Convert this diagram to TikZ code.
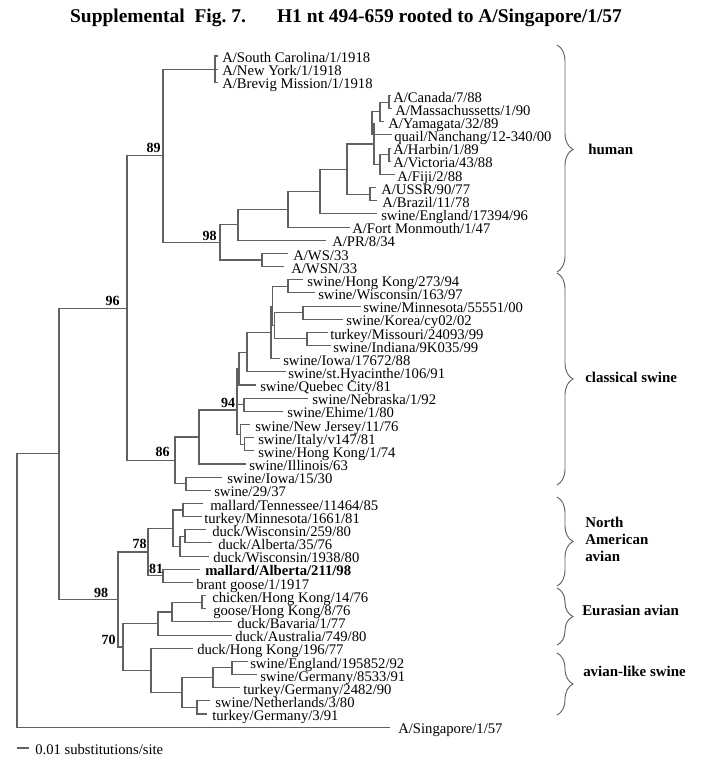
\documentclass[tikz,border=0pt]{standalone}
\usepackage{fontspec}
\setmainfont{Liberation Serif}
\usetikzlibrary{decorations.pathreplacing}
\begin{document}
\begin{tikzpicture}[x=0.75pt,y=-0.75pt,
  br/.style={draw=black!62, line width=0.8pt},
  leaf/.style={anchor=base west, inner sep=0pt, yshift=-5pt, font=\fontsize{11}{12}\selectfont},
  boot/.style={anchor=south east, inner sep=0pt, font=\bfseries\fontsize{10.5}{12}\selectfont},
  clade/.style={anchor=west, inner sep=0pt, align=left, font=\bfseries\fontsize{11.2}{12.75}\selectfont},
  brc/.style={draw=black!62, line width=0.7pt, decorate, decoration={brace, amplitude=12pt}}]
\useasboundingbox (0,0) rectangle (700,764);

\node[font=\bfseries\fontsize{14.6}{16}\selectfont, inner sep=0pt] (title) at (346,18)
  {Supplemental\ \ Fig.\ 7.\hspace{1.6em}H1 nt 494-659 rooted to A/Singapore/1/57};

% ---------- leaves ----------
\coordinate (l1) at (218,56.00);   \node[leaf] (t1) at (222,56.00) {A/South Carolina/1/1918};
\coordinate (l2) at (218,69.16);   \node[leaf] (t2) at (222,69.16) {A/New York/1/1918};
\coordinate (l3) at (218,82.32);   \node[leaf] (t3) at (222,82.32) {A/Brevig Mission/1/1918};
\coordinate (l4) at (391,95.48);   \node[leaf] (t4) at (393,95.48) {A/Canada/7/88};
\coordinate (l5) at (392,108.64);  \node[leaf] (t5) at (395,108.64) {A/Massachussetts/1/90};
\coordinate (l6) at (384,121.80);  \node[leaf] (t6) at (388,121.80) {A/Yamagata/32/89};
\coordinate (l7) at (392,134.96);  \node[leaf] (t7) at (394,134.96) {quail/Nanchang/12-340/00};
\coordinate (l8) at (391,148.12);  \node[leaf] (t8) at (393,148.12) {A/Harbin/1/89};
\coordinate (l9) at (391,161.28);  \node[leaf] (t9) at (393,161.28) {A/Victoria/43/88};
\coordinate (l10) at (395,174.44); \node[leaf] (t10) at (397,174.44) {A/Fiji/2/88};
\coordinate (l11) at (376,187.60); \node[leaf] (t11) at (381,187.60) {A/USSR/90/77};
\coordinate (l12) at (377,200.76); \node[leaf] (t12) at (382,200.76) {A/Brazil/11/78};
\coordinate (l13) at (377,213.92); \node[leaf] (t13) at (381,213.92) {swine/England/17394/96};
\coordinate (l14) at (350,227.08); \node[leaf] (t14) at (352,227.08) {A/Fort Monmouth/1/47};
\coordinate (l15) at (326,240.24); \node[leaf] (t15) at (332,240.24) {A/PR/8/34};
\coordinate (l16) at (288,253.40); \node[leaf] (t16) at (293,253.40) {A/WS/33};
\coordinate (l17) at (284,266.56); \node[leaf] (t17) at (291,266.56) {A/WSN/33};
\coordinate (l18) at (303,279.72); \node[leaf] (t18) at (307,279.72) {swine/Hong Kong/273/94};
\coordinate (l19) at (315,292.88); \node[leaf] (t19) at (318,292.88) {swine/Wisconsin/163/97};
\coordinate (l20) at (361,306.04); \node[leaf] (t20) at (363,306.04) {swine/Minnesota/55551/00};
\coordinate (l21) at (343,319.20); \node[leaf] (t21) at (346,319.20) {swine/Korea/cy02/02};
\coordinate (l22) at (328,332.36); \node[leaf] (t22) at (330,332.36) {turkey/Missouri/24093/99};
\coordinate (l23) at (331,345.52); \node[leaf] (t23) at (333,345.52) {swine/Indiana/9K035/99};
\coordinate (l24) at (280,358.68); \node[leaf] (t24) at (283,358.68) {swine/Iowa/17672/88};
\coordinate (l25) at (286,371.84); \node[leaf] (t25) at (288,371.84) {swine/st.Hyacinthe/106/91};
\coordinate (l26) at (256,385.00); \node[leaf] (t26) at (260,385.00) {swine/Quebec City/81};
\coordinate (l27) at (308,398.16); \node[leaf] (t27) at (312,398.16) {swine/Nebraska/1/92};
\coordinate (l28) at (283,411.32); \node[leaf] (t28) at (287,411.32) {swine/Ehime/1/80};
\coordinate (l29) at (250,424.48); \node[leaf] (t29) at (255,424.48) {swine/New Jersey/11/76};
\coordinate (l30) at (254,437.64); \node[leaf] (t30) at (258,437.64) {swine/Italy/v147/81};
\coordinate (l31) at (254,450.80); \node[leaf] (t31) at (258,450.80) {swine/Hong Kong/1/74};
\coordinate (l32) at (246,463.96); \node[leaf] (t32) at (249,463.96) {swine/Illinois/63};
\coordinate (l33) at (222,477.12); \node[leaf] (t33) at (227,477.12) {swine/Iowa/15/30};
\coordinate (l34) at (211,490.28); \node[leaf] (t34) at (214,490.28) {swine/29/37};
\coordinate (l35) at (203,503.44); \node[leaf] (t35) at (210,503.44) {mallard/Tennessee/11464/85};
\coordinate (l36) at (202,516.60); \node[leaf] (t36) at (204,516.60) {turkey/Minnesota/1661/81};
\coordinate (l37) at (206,529.76); \node[leaf] (t37) at (212,529.76) {duck/Wisconsin/259/80};
\coordinate (l38) at (212,542.92); \node[leaf] (t38) at (218,542.92) {duck/Alberta/35/76};
\coordinate (l39) at (209,556.08); \node[leaf] (t39) at (213,556.08) {duck/Wisconsin/1938/80};
\coordinate (l40) at (200,569.24); \node[leaf] (t40) at (205,569.24) {\bfseries mallard/Alberta/211/98};
\coordinate (l41) at (193,582.40); \node[leaf] (t41) at (196,582.40) {brant goose/1/1917};
\coordinate (l42) at (206,595.56); \node[leaf] (t42) at (212,595.56) {chicken/Hong Kong/14/76};
\coordinate (l43) at (206,608.72); \node[leaf] (t43) at (213,608.72) {goose/Hong Kong/8/76};
\coordinate (l44) at (232,621.88); \node[leaf] (t44) at (237,621.88) {duck/Bavaria/1/77};
\coordinate (l45) at (232,635.04); \node[leaf] (t45) at (235,635.04) {duck/Australia/749/80};
\coordinate (l46) at (193,648.20); \node[leaf] (t46) at (197,648.20) {duck/Hong Kong/196/77};
\coordinate (l47) at (248,661.36); \node[leaf] (t47) at (250,661.36) {swine/England/195852/92};
\coordinate (l48) at (257,674.52); \node[leaf] (t48) at (260,674.52) {swine/Germany/8533/91};
\coordinate (l49) at (240,687.68); \node[leaf] (t49) at (243,687.68) {turkey/Germany/2482/90};
\coordinate (l50) at (210,700.84); \node[leaf] (t50) at (215,700.84) {swine/Netherlands/3/80};
\coordinate (l51) at (207,714.00); \node[leaf] (t51) at (212,714.00) {turkey/Germany/3/91};
\coordinate (l52) at (390,727.16); \node[leaf] (t52) at (398,727.16) {A/Singapore/1/57};

% ---------- internal nodes ----------
\coordinate (n1918) at (215,69.16);
\coordinate (nCM) at (389,102.06);
\coordinate (nCMY) at (380,111.93);
\coordinate (nCMYQ) at (372,123.45);
\coordinate (nHV) at (389,154.70);
\coordinate (nHVF) at (380,164.57);
\coordinate (nUp) at (374,144.0);
\coordinate (nUB) at (370,194.18);
\coordinate (nH2) at (347,169.1);
\coordinate (nH3) at (320,191.5);
\coordinate (nH4) at (288,209.3);
\coordinate (nH5) at (238,224.8);
\coordinate (nWW) at (262,259.98);
\coordinate (n98h) at (220,242.4);
\coordinate (n89) at (163,155.8);
\coordinate (nHW) at (288,286.3);
\coordinate (nMK) at (303,312.62);
\coordinate (nTI) at (307,338.94);
\coordinate (nX) at (274.5,325.78);
\coordinate (nP1) at (272.5,306.04);
\coordinate (nP2) at (271,332.36);
\coordinate (nQ) at (247,352.1);
\coordinate (nR) at (239,368.55);
\coordinate (nNE) at (244,404.74);
\coordinate (nIH) at (244.5,444.22);
\coordinate (nNJ) at (240.5,434.35);
\coordinate (n94) at (237,410);
\coordinate (nCS1) at (199,437);
\coordinate (nIW) at (186,483.7);
\coordinate (n86) at (175,460.35);
\coordinate (n96) at (127,308.1);
\coordinate (nTM) at (183,510.02);
\coordinate (nWA) at (185,536.34);
\coordinate (nWAW) at (180,546.21);
\coordinate (nNA) at (173,528.1);
\coordinate (n81) at (163,575.82);
\coordinate (n78) at (148,551.96);
\coordinate (nCG) at (202,602.14);
\coordinate (nCGB) at (172,612.0);
\coordinate (nEur) at (158,623.5);
\coordinate (nEG) at (232,667.94);
\coordinate (nETG) at (213,677.8);
\coordinate (nNT) at (197,707.42);
\coordinate (nAS) at (182,692.6);
\coordinate (nF) at (151,670.4);
\coordinate (n70) at (123,647.0);
\coordinate (n98a) at (118,599.5);
\coordinate (n59) at (59,453.8);
\coordinate (nroot) at (17,590.5);

% ---------- branches ----------
\foreach \p/\c in {n1918/l1,n1918/l2,n1918/l3,
  nCM/l4,nCM/l5,nCMY/nCM,nCMY/l6,nCMYQ/nCMY,nCMYQ/l7,
  nHV/l8,nHV/l9,nHVF/nHV,nHVF/l10,nUp/nCMYQ,nUp/nHVF,
  nUB/l11,nUB/l12,nH2/nUp,nH2/nUB,nH3/nH2,nH3/l13,nH4/nH3,nH4/l14,
  nH5/nH4,nH5/l15,nWW/l16,nWW/l17,n98h/nH5,n98h/nWW,n89/n1918,n89/n98h,
  nHW/l18,nHW/l19,nMK/l20,nMK/l21,nTI/l22,nTI/l23,nX/nMK,nX/nTI,
  nP1/nHW,nP1/nX,nP2/nP1,nP2/l24,nQ/nP2,nQ/l25,nR/nQ,nR/l26,
  nNE/l27,nNE/l28,nIH/l30,nIH/l31,nNJ/l29,nNJ/nIH,
  n94/nR,n94/nNE,n94/nNJ,nCS1/n94,nCS1/l32,nIW/l33,nIW/l34,
  n86/nCS1,n86/nIW,n96/n89,n96/n86,
  nTM/l35,nTM/l36,nWA/l37,nWA/l38,nWAW/nWA,nWAW/l39,nNA/nTM,nNA/nWAW,
  n81/l40,n81/l41,n78/nNA,n78/n81,
  nCG/l42,nCG/l43,nCGB/nCG,nCGB/l44,nEur/nCGB,nEur/l45,
  nEG/l47,nEG/l48,nETG/nEG,nETG/l49,nNT/l50,nNT/l51,nAS/nETG,nAS/nNT,
  nF/l46,nF/nAS,n70/nEur,n70/nF,n98a/n78,n98a/n70,
  n59/n96,n59/n98a,nroot/n59,nroot/l52}
  \draw[br] (\p) |- (\c);

% ---------- bootstrap values ----------
\node[boot] (b89) at (161,153) {89};
\node[boot] (b98h) at (217,240.5) {98};
\node[boot] (b96) at (120,306) {96};
\node[boot] (b86) at (170,457) {86};
\node[boot] (b94) at (235.5,408) {94};
\node[boot] (b78) at (147,549) {78};
\node[boot] (b81) at (163.5,573.5) {81};
\node[boot] (b98a) at (108.5,597.5) {98};
\node[boot] (b70) at (116,645) {70};

% ---------- clade braces ----------
\draw[brc, decoration={aspect=0.46}] (557,45) -- (557,272);
\draw[brc] (557,273) -- (557,485);
\draw[brc] (557,497) -- (557,586);
\draw[brc] (557,588) -- (557,645);
\draw[brc] (557,653) -- (557,715);
\node[clade] (chuman) at (588,149) {human};
\node[clade] (cclass) at (585,377) {classical swine};
\node[clade] (cna) at (585,539) {North\\American\\avian};
\node[clade] (ceur) at (582,610) {Eurasian avian};
\node[clade] (cals) at (583,671) {avian-like swine};

% ---------- scale bar ----------
\coordinate (sb1) at (17,748);
\coordinate (sb2) at (29,748);
\draw[br] (sb1) -- (sb2);
\node[leaf] (sbt) at (35,748) {0.01 substitutions/site};
\end{tikzpicture}
\end{document}
